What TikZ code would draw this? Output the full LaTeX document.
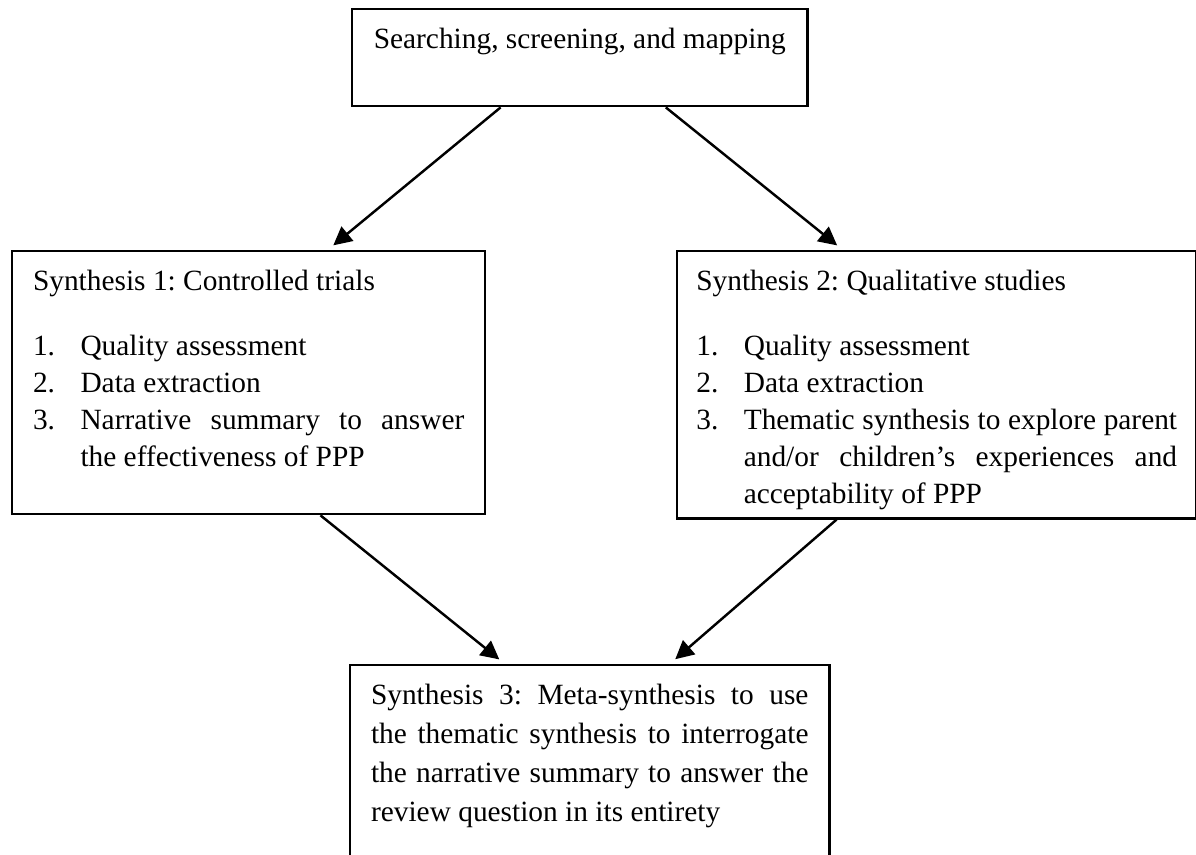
\documentclass[tikz,border=0pt]{standalone}
\usepackage{fontspec}
\setmainfont{Liberation Serif}
\usetikzlibrary{arrows.meta,calc}
\tolerance=10000
\hbadness=10000
\frenchspacing
\newcommand{\numitem}[2]{\par\leftskip=19.4pt\noindent\hspace*{-19.4pt}\makebox[19.4pt][l]{#1}#2}

\begin{document}
\begin{tikzpicture}[x=0.4085pt,y=-0.4085pt,
    box/.style={draw,line width=1pt,anchor=north west,align=justify,inner xsep=8.5pt,inner ysep=7pt,text height=9pt,font=\fontsize{12}{15.1}\selectfont},
    arr/.style={line width=1pt,-{Triangle[length=7.5pt,width=7.5pt]},shorten >=3pt}]
  \clip (0,0) rectangle (1196,854);
  % boxes
  \node[box,align=center,inner xsep=3pt,minimum width=185.9pt,text depth=16.6pt] (search) at (351,8) {Searching, screening, and mapping};
  \node[box,text width=176.2pt,text depth=84.4pt] (syn1) at (11,250) {Synthesis 1: Controlled trials\par\vspace{11.5pt}
    \numitem{1.}{Quality assessment}
    \numitem{2.}{Data extraction}
    \numitem{3.}{Narrative summary to answer\linebreak the effectiveness of PPP}\par};
  \node[box,inner xsep=7.8pt,text width=196.4pt,text depth=86.1pt] (syn2) at (676,250) {Synthesis 2: Qualitative studies\par\vspace{11.5pt}
    \numitem{1.}{Quality assessment}
    \numitem{2.}{Data extraction}
    \numitem{3.}{Thematic synthesis to explore parent\linebreak and/or children’s experiences and\linebreak acceptability of PPP}\par};
  \node[box,text width=178.7pt,text depth=90pt,font=\fontsize{12}{15.9}\selectfont] (meta) at (349,664) {Synthesis 3: Meta-synthesis to use\linebreak the thematic synthesis to interrogate\linebreak the narrative summary to answer the\linebreak review question in its entirety\par};
  % arrows
  \draw[arr] ($(search.south west)!0.327!(search.south east)$) -- ($(syn1.north west)!0.666!(syn1.north east)$);
  \draw[arr] ($(search.south west)!0.688!(search.south east)$) -- ($(syn2.north west)!0.320!(syn2.north east)$);
  \draw[arr] ($(syn1.south west)!0.651!(syn1.south east)$) -- ($(meta.north west)!0.324!(meta.north east)$);
  \draw[arr] ($(syn2.south west)!0.308!(syn2.south east)$) -- ($(meta.north west)!0.666!(meta.north east)$);
\end{tikzpicture}
\end{document}
